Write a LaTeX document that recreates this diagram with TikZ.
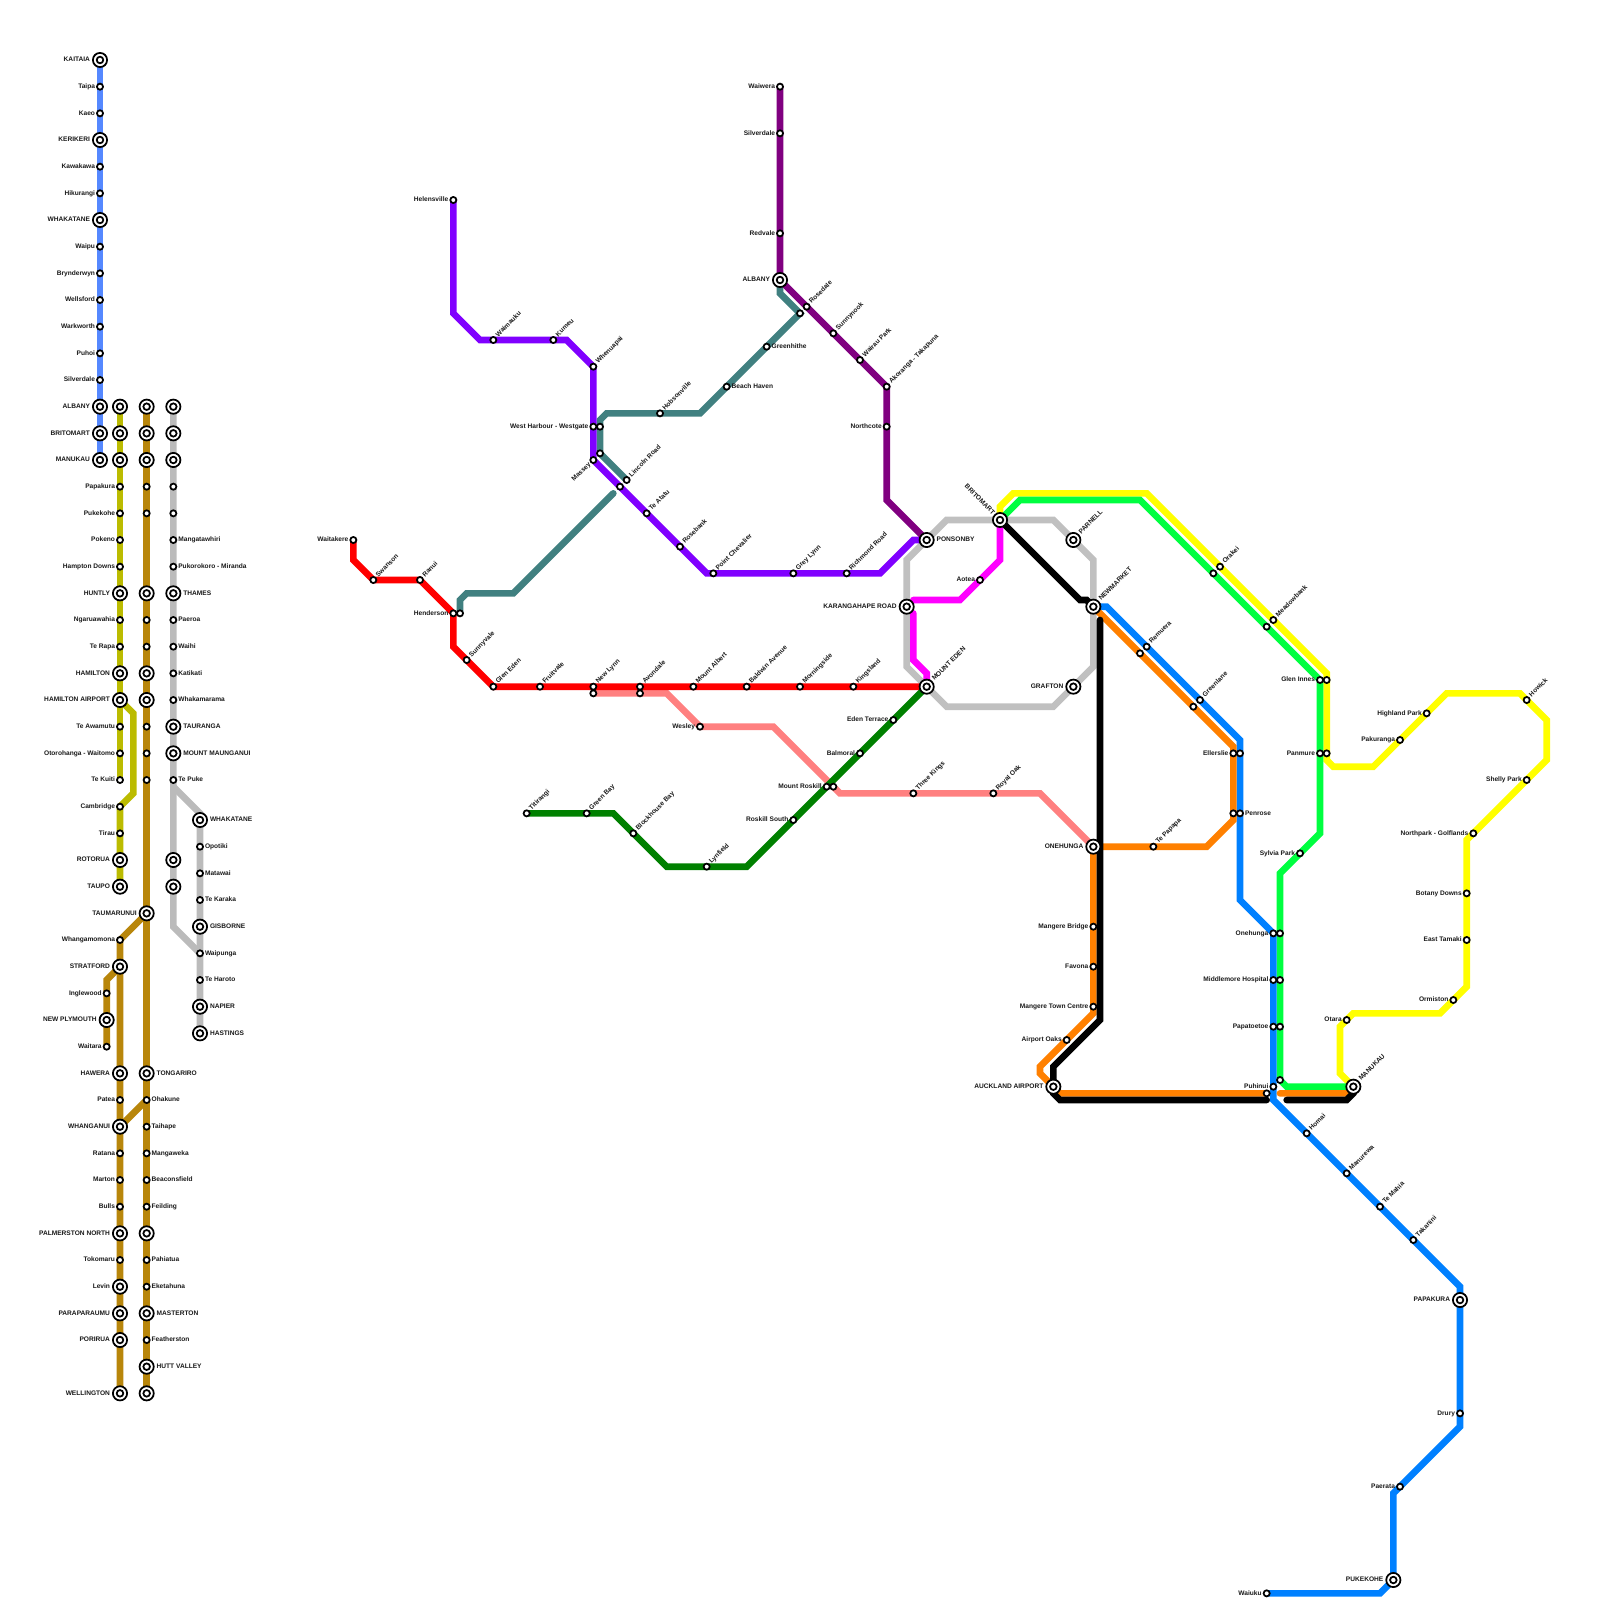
\documentclass[tikz,border=0pt]{standalone}
\usepackage{fontspec}
\setmainfont{Liberation Sans}
\pgfdeclarelayer{lines}
\pgfsetlayers{lines,main}
\definecolor{cA}{HTML}{5588FF}
\definecolor{cB}{HTML}{BBBB00}
\definecolor{cC}{HTML}{B8860B}
\definecolor{cD}{HTML}{BBBBBB}
\definecolor{cLoop}{HTML}{C0C0C0}
\definecolor{cRed}{HTML}{FF0000}
\definecolor{cSalmon}{HTML}{FF8080}
\definecolor{cDG}{HTML}{008000}
\definecolor{cViolet}{HTML}{8000FF}
\definecolor{cPlum}{HTML}{800080}
\definecolor{cTeal}{HTML}{408080}
\definecolor{cMag}{HTML}{FF00FF}
\definecolor{cOrange}{HTML}{FF8000}
\definecolor{cBlue}{HTML}{0080FF}
\definecolor{cLime}{HTML}{00FF40}
\definecolor{cYel}{HTML}{FFFF00}
\tikzset{
  route/.style={draw=#1,line width=6.67pt,line cap=round,line join=miter,miter limit=4},
  smallst/.style={circle,draw=black,fill=white,line width=1.75pt,minimum size=6.1pt,inner sep=0pt,outer sep=0pt},
  bigst/.style={circle,draw=black,fill=white,line width=1.75pt,minimum size=14.2pt,inner sep=0pt,outer sep=0pt},
  corest/.style={circle,draw=black,fill=white,line width=1.75pt,minimum size=6.6pt,inner sep=0pt,outer sep=0pt},
  lab/.style={inner sep=0pt,outer sep=0pt,text height=5pt,text depth=1.3pt,font=\fontsize{6.6}{8}\selectfont\bfseries,text=black!90}
}
\newcommand\sS[3]{\node[smallst] (#1) at (#2,#3) {};}
\newcommand\iS[3]{\node[bigst] (#1) at (#2,#3) {}; \node[corest] (#1-c) at (#1.center) {};}
\newcommand\sL[4]{\sS{#1}{#2}{#3}\node[lab,anchor=east] (#1-l) at ([xshift=-5pt]#1.center) {#4};}
\newcommand\sR[4]{\sS{#1}{#2}{#3}\node[lab,anchor=west] (#1-l) at ([xshift=5pt]#1.center) {#4};}
\newcommand\sU[4]{\sS{#1}{#2}{#3}\node[lab,anchor=west,rotate=45] (#1-l) at ([shift={(3.7pt,4.1pt)}]#1.center) {#4};}
\newcommand\iL[4]{\iS{#1}{#2}{#3}\node[lab,anchor=east] (#1-l) at ([xshift=-10pt]#1.center) {#4};}
\newcommand\iR[4]{\iS{#1}{#2}{#3}\node[lab,anchor=west] (#1-l) at ([xshift=10pt]#1.center) {#4};}
\newcommand\iU[4]{\iS{#1}{#2}{#3}\node[lab,anchor=west,rotate=45] (#1-l) at ([shift={(6.6pt,7pt)}]#1.center) {#4};}
\begin{document}
\begin{tikzpicture}[x=6.66667pt,y=-6.66667pt]
\useasboundingbox (0,0) rectangle (240,240);
% ---- column A
\iL{a1}{15}{9}{KAITAIA}\sL{a2}{15}{13}{Taipa}\sL{a3}{15}{17}{Kaeo}\iL{a4}{15}{21}{KERIKERI}
\sL{a5}{15}{25}{Kawakawa}\sL{a6}{15}{29}{Hikurangi}\iL{a7}{15}{33}{WHAKATANE}\sL{a8}{15}{37}{Waipu}
\sL{a9}{15}{41}{Brynderwyn}\sL{a10}{15}{45}{Wellsford}\sL{a11}{15}{49}{Warkworth}\sL{a12}{15}{53}{Puhoi}
\sL{a13}{15}{57}{Silverdale}\iL{a14}{15}{61}{ALBANY}\iL{a15}{15}{65}{BRITOMART}\iL{a16}{15}{69}{MANUKAU}
% ---- column B
\iS{b1}{18}{61}\iS{b2}{18}{65}\iS{b3}{18}{69}
\sL{b4}{18}{73}{Papakura}\sL{b5}{18}{77}{Pukekohe}\sL{b6}{18}{81}{Pokeno}\sL{b7}{18}{85}{Hampton Downs}
\iL{b8}{18}{89}{HUNTLY}\sL{b9}{18}{93}{Ngaruawahia}\sL{b10}{18}{97}{Te Rapa}\iL{b11}{18}{101}{HAMILTON}
\iL{b12}{18}{105}{HAMILTON AIRPORT}\sL{b13}{18}{109}{Te Awamutu}\sL{b14}{18}{113}{Otorohanga - Waitomo}
\sL{b15}{18}{117}{Te Kuiti}\sL{b16}{18}{121}{Cambridge}\sL{b17}{18}{125}{Tirau}\iL{b18}{18}{129}{ROTORUA}\iL{b19}{18}{133}{TAUPO}
% ---- column C
\iS{c1}{22}{61}\iS{c2}{22}{65}\iS{c3}{22}{69}\sS{c4}{22}{73}\sS{c5}{22}{77}\iS{c6}{22}{89}\sS{c7}{22}{93}\sS{c8}{22}{97}
\iS{c9}{22}{101}\iS{c10}{22}{105}\sS{c11}{22}{109}\sS{c12}{22}{113}\sS{c13}{22}{117}\iL{c14}{22}{137}{TAUMARUNUI}
\iR{c15}{22}{161}{TONGARIRO}\sR{c16}{22}{165}{Ohakune}\sR{c17}{22}{169}{Taihape}\sR{c18}{22}{173}{Mangaweka}
\sR{c19}{22}{177}{Beaconsfield}\sR{c20}{22}{181}{Feilding}\iS{c21}{22}{185}\sR{c22}{22}{189}{Pahiatua}
\sR{c23}{22}{193}{Eketahuna}\iR{c24}{22}{197}{MASTERTON}\sR{c25}{22}{201}{Featherston}\iR{c26}{22}{205}{HUTT VALLEY}\iS{c27}{22}{209}
% west coast
\sL{w1}{18}{141}{Whangamomona}\iL{w2}{18}{145}{STRATFORD}\sL{w3}{16}{149}{Inglewood}\iL{w4}{16}{153}{NEW PLYMOUTH}\sL{w5}{16}{157}{Waitara}
\iL{w6}{18}{161}{HAWERA}\sL{w7}{18}{165}{Patea}\iL{w8}{18}{169}{WHANGANUI}\sL{w9}{18}{173}{Ratana}\sL{w10}{18}{177}{Marton}
\sL{w11}{18}{181}{Bulls}\iL{w12}{18}{185}{PALMERSTON NORTH}\sL{w13}{18}{189}{Tokomaru}\iL{w14}{18}{193}{Levin}
\iL{w15}{18}{197}{PARAPARAUMU}\iL{w16}{18}{201}{PORIRUA}\iL{w17}{18}{209}{WELLINGTON}
% ---- column D
\iS{d1}{26}{61}\iS{d2}{26}{65}\iS{d3}{26}{69}\sS{d4}{26}{73}\sS{d5}{26}{77}\sR{d6}{26}{81}{Mangatawhiri}
\sR{d7}{26}{85}{Pukorokoro - Miranda}\iR{d8}{26}{89}{THAMES}\sR{d9}{26}{93}{Paeroa}\sR{d10}{26}{97}{Waihi}
\sR{d11}{26}{101}{Katikati}\sR{d12}{26}{105}{Whakamarama}\iR{d13}{26}{109}{TAURANGA}\iR{d14}{26}{113}{MOUNT MAUNGANUI}
\sR{d15}{26}{117}{Te Puke}\iS{d16}{26}{129}\iS{d17}{26}{133}
\iR{e1}{30}{123}{WHAKATANE}\sR{e2}{30}{127}{Opotiki}\sR{e3}{30}{131}{Matawai}\sR{e4}{30}{135}{Te Karaka}
\iR{e5}{30}{139}{GISBORNE}\sR{e6}{30}{143}{Waipunga}\sR{e7}{30}{147}{Te Haroto}\iR{e8}{30}{151}{NAPIER}\iR{e9}{30}{155}{HASTINGS}
% ---- red
\sL{waitakere}{53}{81}{Waitakere}\sU{swanson}{56}{87}{Swanson}\sU{ranui}{63}{87}{Ranui}\sL{henderson}{68}{92}{Henderson}
\sU{sunnyvale}{70}{99}{Sunnyvale}\sU{gleneden}{74}{103}{Glen Eden}\sU{fruitvale}{81}{103}{Fruitvale}\sU{newlynn}{89}{103}{New Lynn}
\sU{avondale}{96}{103}{Avondale}\sU{mtalbert}{104}{103}{Mount Albert}\sU{baldwin}{112}{103}{Baldwin Avenue}
\sU{morningside}{120}{103}{Morningside}\sU{kingsland}{128}{103}{Kingsland}\iU{mteden}{139}{103}{MOUNT EDEN}
% ---- salmon
\sS{newlynnb}{89}{104}\sS{avondaleb}{96}{104}\sL{wesley}{105}{109}{Wesley}\sS{roskillb}{125}{118}
\sU{threekings}{137}{119}{Three Kings}\sU{royaloak}{149}{119}{Royal Oak}\iL{onehunga}{164}{127}{ONEHUNGA}
% ---- dark green
\sU{titirangi}{79}{122}{Titirangi}\sU{greenbay}{88}{122}{Green Bay}\sU{blockhouse}{95}{125}{Blockhouse Bay}\sU{lynfield}{106}{130}{Lynfield}
\sL{roskillsth}{119}{123}{Roskill South}\sL{roskill}{124}{118}{Mount Roskill}\sL{balmoral}{129}{113}{Balmoral}\sL{edenterr}{134}{108}{Eden Terrace}
% ---- violet
\sL{helensville}{68}{30}{Helensville}\sU{waimauku}{74}{51}{Waimauku}\sU{kumeu}{83}{51}{Kumeu}\sU{whenuapai}{89}{55}{Whenuapai}
\sL{westharbour}{89}{64}{West Harbour - Westgate}\sS{massey}{89}{69}
\node[lab,anchor=east,rotate=45] (massey-l) at ([shift={(-3.6pt,-3.6pt)}]massey.center) {Massey};
\sS{royalrd}{93}{73}\sU{teatatu}{97}{77}{Te Atatu}\sU{rosebank}{102}{82}{Rosebank}\sU{pointchev}{107}{86}{Point Chevalier}
\sU{greylynn}{119}{86}{Grey Lynn}\sU{richmond}{127}{86}{Richmond Road}\iR{ponsonby}{139}{81}{PONSONBY}
% ---- teal
\sS{hendersonb}{69}{92}\sS{lincolnb}{90}{68}\sU{lincoln}{94}{72}{Lincoln Road}\sS{westharbourb}{90}{64}
\sU{hobsonville}{99}{62}{Hobsonville}\sR{beachhaven}{109}{58}{Beach Haven}\sR{greenhithe}{115}{52}{Greenhithe}\sS{bayview}{120}{47}
\iL{albany}{117}{42}{ALBANY}
% ---- plum
\sL{waiwera}{117}{13}{Waiwera}\sL{silverdale}{117}{20}{Silverdale}\sL{redvale}{117}{35}{Redvale}\sU{rosedale}{121}{46}{Rosedale}
\sU{sunnynook}{125}{50}{Sunnynook}\sU{wairau}{129}{54}{Wairau Park}\sU{akoranga}{133}{58}{Akoranga - Takapuna}\sL{northcote}{133}{64}{Northcote}
% ---- loop and centre
\iS{britomart}{150}{78}
\node[lab,anchor=east,rotate=-45] (britomart-l) at ([shift={(-6.4pt,6.4pt)}]britomart.center) {BRITOMART};
\iU{parnell}{161}{81}{PARNELL}\iU{newmarket}{164}{91}{NEWMARKET}\iL{grafton}{161}{103}{GRAFTON}\iL{karangahape}{136}{91}{KARANGAHAPE ROAD}
\sL{aotea}{147}{87}{Aotea}
% ---- orange / blue
\sS{remuerab}{171}{98}\sU{remuera}{172}{97}{Remuera}\sS{greenlaneb}{179}{106}\sU{greenlane}{180}{105}{Greenlane}
\sL{ellerslie}{185}{113}{Ellerslie}\sS{ellersliea}{186}{113}\sS{penroseb}{185}{122}\sR{penrose}{186}{122}{Penrose}\sU{tepapapa}{173}{127}{Te Papapa}
\sL{mangerebr}{164}{139}{Mangere Bridge}\sL{favona}{164}{145}{Favona}\sL{mangeretc}{164}{151}{Mangere Town Centre}\sL{airportoaks}{160}{156}{Airport Oaks}
\iL{airport}{158}{163}{AUCKLAND AIRPORT}\sS{puhinuic}{190}{164}
\sL{onehungb}{191}{140}{Onehunga}\sS{onehungc}{192}{140}\sL{middlemore}{191}{147}{Middlemore Hospital}\sS{middlemoreb}{192}{147}
\sL{papatoetoe}{191}{154}{Papatoetoe}\sS{papatoetoeb}{192}{154}\sL{puhinui}{191}{163}{Puhinui}\sS{puhinuib}{192}{162}
\iU{manukau}{203}{163}{MANUKAU}\sU{homai}{196}{170}{Homai}\sU{manurewa}{202}{176}{Manurewa}\sU{temahia}{207}{181}{Te Mahia}\sU{takanini}{212}{186}{Takanini}
\iL{papakura}{219}{195}{PAPAKURA}\sL{drury}{219}{212}{Drury}\sL{paerata}{210}{223}{Paerata}\iL{pukekohe}{209}{237}{PUKEKOHE}\sL{waiuku}{190}{239}{Waiuku}
% ---- lime / yellow
\sS{orakeib}{182}{86}\sU{orakei}{183}{85}{Orakei}\sS{meadowb}{190}{94}\sU{meadowbank}{191}{93}{Meadowbank}
\sL{gleninnes}{198}{102}{Glen Innes}\sS{gleninnesb}{199}{102}\sL{panmure}{198}{113}{Panmure}\sS{panmureb}{199}{113}\sL{sylvia}{195}{128}{Sylvia Park}
\sL{highland}{214}{107}{Highland Park}\sL{pakuranga}{210}{111}{Pakuranga}\sU{howick}{229}{105}{Howick}\sL{shelly}{229}{117}{Shelly Park}
\sL{northpark}{221}{125}{Northpark - Golflands}\sL{botany}{220}{134}{Botany Downs}\sL{easttamaki}{220}{141}{East Tamaki}\sL{ormiston}{218}{150}{Ormiston}\sL{otara}{202}{153}{Otara}
% ---- routes
\begin{pgfonlayer}{lines}
\path[route=cA] (a1.center)--(a16.center);
\path[route=cB] (b1.center)--(b15.center);
\path[route=cB] (b12.center)--(20,107)--(20,119)--(b16.center)--(b19.center);
\path[route=cC] (c1.center)--(c27.center);
\path[route=cC] (c14.center)--(w1.center)--(w17.center);
\path[route=cC] (w2.center)--(16,147)--(w5.center);
\path[route=cC] (c16.center)--(w8.center);
\path[route=cD] (d1.center)--(26,139)--(e6.center);
\path[route=cD] (26,118)--(30,122)--(e9.center);
\path[route=cLoop] (136,84)--(142,78)--(158,78)--(164,84)--(164,100)--(158,106)--(142,106)--(136,100)--cycle;
\path[route=cSalmon] (newlynnb.center)--(100,104)--(wesley.center)--(116,109)--(126,119)--(156,119)--(onehunga.center);
\path[route=cRed] (waitakere.center)--(53,84)--(swanson.center)--(ranui.center)--(henderson.center)--(68,97)--(gleneden.center)--(mteden.center);
\path[route=cDG] (titirangi.center)--(92,122)--(100,130)--(112,130)--(mteden.center);
\path[route=cTeal] (hendersonb.center)--(69,90)--(70,89)--(77,89)--(92,74);
\path[route=cTeal] (lincoln.center)--(90,68)--(90,63)--(91,62)--(105,62)--(bayview.center)--(117,44)--(albany.center);
\path[route=cViolet] (helensville.center)--(68,47)--(72,51)--(85,51)--(whenuapai.center)--(massey.center)--(106,86)--(132,86)--(137,81)--(ponsonby.center);
\path[route=cPlum] (waiwera.center)--(albany.center)--(akoranga.center)--(133,75)--(ponsonby.center);
\path[route=cMag] (britomart.center)--(150,84)--(144,90)--(137,90);
\path[route=cMag] (137,92)--(137,99)--(139,101)--(mteden.center);
\path[route=cYel] (britomart.center)--(150,76)--(152,74)--(172,74)--(199,101)--(199,114)--(200,115)--(206,115)--(217,104)--(228,104)--(232,108)--(232,114)--(221,125)--(220,126)--(220,148)--(216,152)--(203,152)--(201,154)--(201,161)--(manukau.center);
\path[route=cLime] (britomart.center)--(153,75)--(171,75)--(198,102)--(198,125)--(192,131)--(192,162)--(193,163)--(manukau.center);
\path[route=cBlue] (newmarket.center)--(166,91)--(186,111)--(186,135)--(191,140)--(191,165)--(219,193)--(219,214)--(209,224)--(pukekohe.center)--(207,239)--(waiuku.center);
\path[route=cOrange] (newmarket.center)--(185,112)--(185,123)--(181,127)--(onehunga.center)--(164,152)--(156,160)--(156,161)--(airport.center)--(159,164)--(puhinuic.center);
\path[route=cOrange] (192,164)--(202,164)--(manukau.center);
\path[route=black] (britomart.center)--(162,90)--(163,90)--(newmarket.center);
\path[route=black] (165,93)--(165,153)--(158,160)--(158,164)--(159,165)--(190,165);
\path[route=black] (193,165)--(202,165)--(203,164)--(manukau.center);
\end{pgfonlayer}
\end{tikzpicture}
\end{document}
